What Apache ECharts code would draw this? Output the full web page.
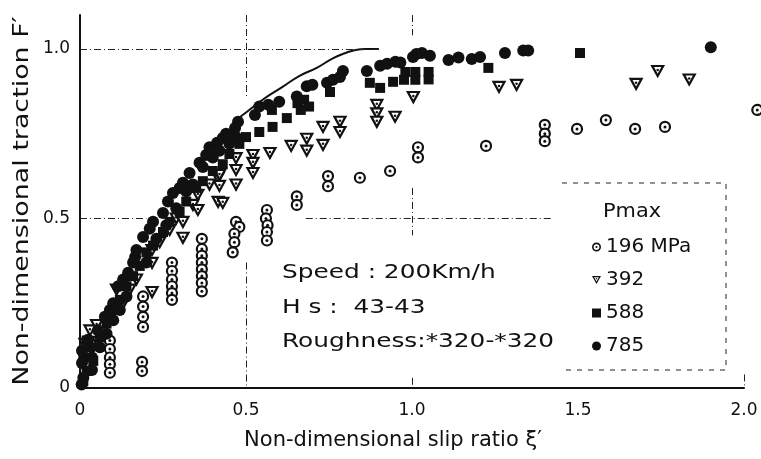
<!DOCTYPE html>
<html>
<head>
<meta charset="utf-8">
<script src="https://cdn.jsdelivr.net/npm/echarts@6/dist/echarts.min.js"></script>
<style>
  html, body { margin: 0; padding: 0; background: #fff; }
  #chart { width: 761px; height: 459px; }
</style>
</head>
<body>
<div id="chart"></div>
<script>
// slip ratio / traction pairs
var p196 = [
  [0.09,0.14],[0.09,0.115],[0.09,0.09],[0.09,0.07],[0.09,0.045],
  [0.19,0.27],[0.19,0.24],[0.19,0.21],[0.19,0.18],[0.187,0.077],[0.187,0.05],
  [0.277,0.37],[0.277,0.345],[0.277,0.32],[0.277,0.30],[0.277,0.28],[0.277,0.26],
  [0.367,0.44],[0.367,0.41],[0.367,0.39],[0.367,0.37],[0.367,0.35],[0.367,0.33],[0.367,0.31],[0.367,0.285],
  [0.47,0.49],[0.48,0.475],[0.465,0.455],[0.465,0.43],[0.46,0.40],
  [0.563,0.525],[0.56,0.50],[0.565,0.48],[0.563,0.46],[0.563,0.435],
  [0.653,0.565],[0.653,0.54],
  [0.747,0.625],[0.747,0.595],[0.843,0.62],[0.934,0.64],[1.018,0.71],[1.018,0.68],
  [1.223,0.714],[1.40,0.776],[1.40,0.75],[1.40,0.728],[1.497,0.764],[1.584,0.79],
  [1.672,0.764],[1.762,0.77],[2.04,0.82]
];
var p392 = [
  [0.015,0.13],[0.03,0.17],[0.05,0.186],[0.054,0.136],[0.08,0.2],
  [0.11,0.29],[0.13,0.25],[0.15,0.29],[0.17,0.32],[0.217,0.407],[0.217,0.369],[0.217,0.283],
  [0.24,0.43],[0.27,0.466],[0.29,0.5],[0.31,0.49],[0.31,0.443],
  [0.34,0.54],[0.355,0.57],[0.355,0.525],[0.39,0.6],[0.416,0.62],[0.416,0.549],[0.43,0.546],
  [0.42,0.628],[0.42,0.596],[0.47,0.678],[0.47,0.643],[0.47,0.60],
  [0.521,0.687],[0.521,0.664],[0.521,0.634],[0.572,0.693],[0.636,0.714],[0.683,0.735],[0.683,0.70],
  [0.732,0.77],[0.732,0.717],[0.783,0.785],[0.783,0.755],
  [0.894,0.835],[0.894,0.81],[0.894,0.785],[0.949,0.80],[1.004,0.858],
  [1.262,0.888],[1.315,0.894],[1.675,0.897],[1.74,0.935],[1.835,0.91]
];
var p588 = [
  [0.01,0.02],[0.02,0.05],[0.01,0.09],[0.03,0.12],[0.02,0.14],[0.04,0.08],[0.06,0.15],
  [0.08,0.19],[0.1,0.23],[0.12,0.26],[0.14,0.3],[0.16,0.33],[0.18,0.36],[0.2,0.4],
  [0.22,0.42],[0.25,0.46],[0.27,0.49],[0.3,0.52],[0.32,0.55],[0.35,0.59],[0.37,0.61],
  [0.4,0.64],[0.43,0.66],[0.45,0.69],[0.48,0.72],
  [0.50,0.74],[0.54,0.755],[0.58,0.77],[0.578,0.82],[0.623,0.796],[0.655,0.84],[0.675,0.85],
  [0.69,0.83],[0.665,0.82],[0.753,0.873],[0.873,0.90],[0.904,0.885],[0.943,0.903],
  [0.976,0.909],[0.98,0.932],[1.01,0.909],[1.01,0.932],[1.05,0.932],[1.05,0.91],
  [1.23,0.944],[1.506,0.988]
];
var p785 = [
  [0.005,0.01],[0.01,0.03],[0.006,0.074],[0.006,0.11],[0.024,0.142],[0.036,0.053],[0.036,0.09],
  [0.054,0.17],[0.06,0.12],[0.075,0.21],[0.08,0.16],[0.09,0.23],[0.1,0.25],[0.1,0.2],
  [0.115,0.30],[0.12,0.23],[0.13,0.32],[0.14,0.27],[0.145,0.34],[0.16,0.37],[0.166,0.386],
  [0.17,0.407],[0.19,0.445],[0.2,0.37],[0.21,0.47],[0.22,0.49],[0.23,0.44],[0.25,0.516],
  [0.26,0.48],[0.265,0.55],[0.28,0.575],[0.29,0.53],[0.3,0.59],[0.31,0.605],[0.32,0.58],
  [0.33,0.634],[0.34,0.6],[0.36,0.664],[0.37,0.652],[0.38,0.687],[0.39,0.71],[0.4,0.68],
  [0.413,0.723],[0.42,0.7],[0.43,0.737],[0.44,0.75],[0.45,0.72],[0.458,0.746],[0.467,0.767],
  [0.47,0.74],[0.476,0.785],[0.527,0.805],[0.54,0.83],[0.567,0.835],[0.60,0.844],[0.653,0.86],
  [0.683,0.89],[0.70,0.894],[0.744,0.90],[0.762,0.909],[0.783,0.917],[0.792,0.935],[0.864,0.935],
  [0.904,0.95],[0.925,0.956],[0.95,0.962],[0.965,0.96],[1.003,0.976],[1.013,0.985],[1.03,0.988],
  [1.054,0.98],[1.11,0.967],[1.14,0.975],[1.18,0.97],[1.205,0.976],[1.28,0.988],[1.335,0.995],
  [1.35,0.995],[1.9,1.005]
];
// theoretical curve, upper envelope
var curve = [
  [0.47,0.79],[0.49,0.805],[0.55,0.85],[0.61,0.888],[0.66,0.92],[0.713,0.944],
  [0.763,0.973],[0.8,0.988],[0.83,0.997],[0.86,1.0],[0.9,1.0]
];
var xTicks = [0, 0.5, 1.0, 1.5, 2.0];
var yTicks = [0, 0.5, 1.0];
var legendNames = ['196 MPa', '392', '588', '785'];

var font = 'DejaVu Sans';
var ink = '#111';
var chart = echarts.init(document.getElementById('chart'));

function tickText(v) { return v === 0 ? '0' : v.toFixed(1); }

var dashDot = [7, 3, 1, 3];
function seg(a, b) { return [{ coord: a }, { coord: b }]; }

// ring with centre dot / open inverted triangle with dot
var ringIcon = 'path://M6,0A6,6 0 1,1 6,12A6,6 0 1,1 6,0Z' +
  'M6,2.2A3.8,3.8 0 1,0 6,9.8A3.8,3.8 0 1,0 6,2.2Z' +
  'M6,4.6A1.4,1.4 0 1,1 6,7.4A1.4,1.4 0 1,1 6,4.6Z';
var triIcon = 'path://M0,0L12,0L6,10.4Z M2.8,1.6L6,7.2L9.2,1.6Z M5.2,2.6L6.8,2.6L6.8,4.2L5.2,4.2Z';
var triSymbol = 'path://M0,0L12,0L6,10.4Z';

var option = {
  backgroundColor: '#fff',
  animation: false,
  grid: { left: 80, right: 17, top: 15, bottom: 71 },
  xAxis: {
    type: 'value', min: 0, max: 2.0, interval: 0.5,
    name: "Non-dimensional slip ratio ξ\u2032",
    nameLocation: 'middle', nameGap: 42,
    nameTextStyle: { fontFamily: font, fontSize: 21, color: ink, padding: [0, 38, 0, 0] },
    axisLine: { lineStyle: { color: ink, width: 2 } },
    axisTick: { show: false },
    splitLine: { show: false },
    axisLabel: {
      fontFamily: font, fontSize: 17, color: ink, margin: 14,
      formatter: function (v) { return xTicks.indexOf(v) >= 0 ? tickText(v) : ''; }
    }
  },
  yAxis: {
    type: 'value', min: 0, max: 1.1, interval: 0.5,
    axisLine: { show: true, lineStyle: { color: ink, width: 2 } },
    axisTick: { show: false },
    splitLine: { show: false },
    axisLabel: {
      fontFamily: font, fontSize: 17, color: ink, margin: 10, showMaxLabel: false,
      formatter: function (v) { return yTicks.indexOf(v) >= 0 ? tickText(v) : ''; }
    }
  },
  legend: {
    data: [
      { name: '196 MPa', icon: ringIcon, itemStyle: { color: ink, borderWidth: 0 } },
      { name: '392', icon: triIcon, itemStyle: { color: ink, borderWidth: 0 } },
      { name: '588', icon: 'rect', itemStyle: { color: ink } },
      { name: '785', icon: 'circle', itemStyle: { color: ink } }
    ],
    orient: 'vertical', left: 587, top: 232,
    itemGap: 13, itemWidth: 9, itemHeight: 9,
    textStyle: { fontFamily: font, fontSize: 20, color: ink },
    selectedMode: false
  },
  graphic: [
    { type: 'text', x: 23, y: 201, rotation: Math.PI / 2, scaleX: 1.28,
      style: { text: "Non-dimensional traction F\u2032", font: '21px "DejaVu Sans"', fill: ink,
        align: 'center', verticalAlign: 'middle' } },
    { type: 'text', x: 603, y: 203, scaleX: 1.1,
      style: { text: 'Pmax', font: '19px "DejaVu Sans"', fill: ink, verticalAlign: 'top' } },
    { type: 'text', x: 282, y: 263, scaleX: 1.24,
      style: { text: 'Speed : 200Km/h', font: '20px "DejaVu Sans"', fill: ink, verticalAlign: 'top' } },
    { type: 'text', x: 282, y: 298, scaleX: 1.24,
      style: { text: 'H s :  43-43', font: '20px "DejaVu Sans"', fill: ink, verticalAlign: 'top' } },
    { type: 'text', x: 282, y: 332, scaleX: 1.24,
      style: { text: 'Roughness:*320-*320', font: '20px "DejaVu Sans"', fill: ink, verticalAlign: 'top' } },
    { type: 'polyline', shape: { points: [[562, 183], [726, 183], [726, 370], [562, 370]] },
      style: { stroke: '#222', lineWidth: 1, lineDash: [5, 6], fill: null } }
  ],
  series: [
    {
      type: 'line', name: 'grid', data: [], silent: true,
      markLine: {
        silent: true, symbol: 'none', label: { show: false },
        lineStyle: { color: '#222', width: 1, type: dashDot },
        data: [
          seg([0, 1.0], [0.9, 1.0]),
          seg([0, 0.5], [0.2, 0.5]),
          seg([0.68, 0.5], [1.42, 0.5]),
          seg([0.5, 1.1], [0.5, 0.86]),
          seg([0.5, 0.37], [0.5, 0]),
          seg([1.0, 1.1], [1.0, 1.04]),
          seg([1.0, 0.59], [1.0, 0.45]),
          seg([1.0, 0.03], [1.0, 0]),
          seg([2.0, 0.04], [2.0, 0])
        ]
      }
    },
    {
      type: 'line', name: 'curve', data: curve, smooth: true, showSymbol: false,
      lineStyle: { color: ink, width: 2 }, z: 1
    },
    {
      type: 'scatter', name: '196 MPa', data: p196, clip: false,
      symbol: 'circle', symbolSize: 10,
      itemStyle: { color: '#fff', borderColor: ink, borderWidth: 2.2, opacity: 1 }, z: 3
    },
    {
      type: 'scatter', name: '392', data: p392, clip: false,
      symbol: triSymbol, symbolSize: [11, 10],
      itemStyle: { color: '#fff', borderColor: ink, borderWidth: 2.2, opacity: 1 }, z: 3
    },
    {
      type: 'scatter', name: '588', data: p588, clip: false,
      symbol: 'rect', symbolSize: 10,
      itemStyle: { color: ink, opacity: 1 }, z: 4
    },
    {
      type: 'scatter', name: '785', data: p785, clip: false,
      symbol: 'circle', symbolSize: 12,
      itemStyle: { color: ink, opacity: 1 }, z: 4
    },
    {
      type: 'scatter', name: 'c196', data: p196, clip: false, silent: true,
      symbol: 'circle', symbolSize: 3, itemStyle: { color: ink, opacity: 1 }, z: 5
    },
    {
      type: 'scatter', name: 'c392', data: p392, clip: false, silent: true,
      symbol: 'circle', symbolSize: 2.5, symbolOffset: [0, -1], itemStyle: { color: ink, opacity: 1 }, z: 5
    }
  ]
};
chart.setOption(option);
</script>
</body>
</html>
